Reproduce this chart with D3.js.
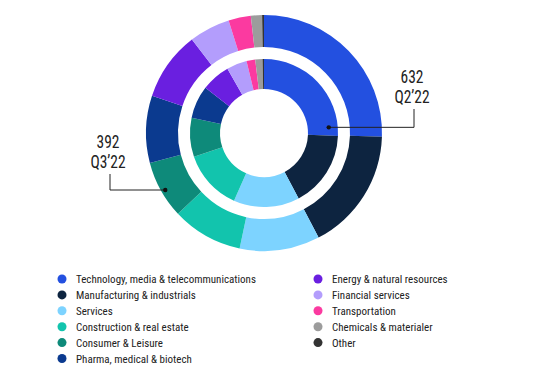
<!DOCTYPE html>
<html>
<head>
<meta charset="utf-8">
<script src="https://cdn.jsdelivr.net/npm/d3@7"></script>
<style>
  body { margin: 0; background: #fff; }
  svg text { font-family: "Liberation Sans Narrow", "Roboto Condensed", "DejaVu Sans Condensed", Roboto, sans-serif; fill: #222; }
</style>
</head>
<body>
<div id="chart"></div>
<script>
const categories = [
  'Technology, media & telecommunications',
  'Manufacturing & industrials',
  'Services',
  'Construction & real estate',
  'Consumer & Leisure',
  'Pharma, medical & biotech',
  'Energy & natural resources',
  'Financial services',
  'Transportation',
  'Chemicals & materialer',
  'Other'
]
const colors = ['#2350e0', '#0d2440', '#7dd3ff', '#12c4ad', '#0e8a7a', '#0b3a8f',
  '#6a1fe0', '#b39dfc', '#fb3aa0', '#9c9c9c', '#333333']
// inner ring: Q2'22 (632), outer ring: Q3'22 (392)
const q2Values = [162, 105, 91, 83, 54, 45, 40, 28, 12, 10, 2]
const q3Values = [100, 66, 43, 38, 31, 36, 37, 22, 12, 6, 1]
const ringLabels = [
  { value: '632', period: 'Q2\u201922' },
  { value: '392', period: 'Q3\u201922' }
]

const width = 540
const height = 375
const cx = 264
const cy = 133

const svg = d3.select('#chart').append('svg')
  .attr('width', width)
  .attr('height', height)

const pie = d3.pie().sort(null).value(d => d)
const color = d3.scaleOrdinal().domain(categories).range(colors)

const rings = [
  { values: q2Values, inner: 44, outer: 74 },
  { values: q3Values, inner: 86, outer: 118 }
]

const g = svg.append('g').attr('transform', `translate(${cx},${cy})`)

rings.forEach(r => {
  const arc = d3.arc().innerRadius(r.inner).outerRadius(r.outer)
  g.append('g')
    .selectAll('path')
    .data(pie(r.values))
    .enter().append('path')
    .attr('d', arc)
    .attr('fill', (d, i) => color(categories[i]))
})

// callouts (angle in degrees, clockwise from 12 o'clock)
const callouts = [
  { deg: 85, r: 65, tx: 412, ty: 83, label: ringLabels[0] },
  { deg: 240, r: 114, tx: 108, ty: 148, label: ringLabels[1] }
]

callouts.forEach(c => {
  const a = c.deg * Math.PI / 180
  const px = cx + c.r * Math.sin(a)
  const py = cy - c.r * Math.cos(a)
  svg.append('path')
    .attr('d', `M${c.tx + 2},${c.ty + 26} V${py} H${px}`)
    .attr('fill', 'none')
    .attr('stroke', '#222')
    .attr('stroke-width', 1)
  svg.append('circle')
    .attr('cx', px).attr('cy', py).attr('r', 2.2)
    .attr('fill', '#111')
  // narrow look: squeeze the text horizontally
  const t = svg.append('g')
    .attr('transform', `translate(${c.tx},${c.ty}) scale(0.86,1)`)
  t.append('text')
    .attr('text-anchor', 'middle')
    .attr('font-size', 18)
    .text(c.label.value)
  t.append('text')
    .attr('y', 20)
    .attr('text-anchor', 'middle')
    .attr('font-size', 18)
    .text(c.label.period)
})

// legend
const legend = svg.append('g')
const rowH = 15.9
const items = legend.selectAll('g')
  .data(categories)
  .enter().append('g')
  .attr('transform', (d, i) => {
    const col = i < 6 ? 0 : 1
    const row = i < 6 ? i : i - 6
    return `translate(${col ? 318 : 62},${279 + row * rowH})`
  })

items.append('circle')
  .attr('r', 4.5)
  .attr('fill', d => color(d))

items.append('text')
  .attr('x', 14)
  .attr('y', 4)
  .attr('font-size', 11)
  .text(d => d)
</script>
</body>
</html>
